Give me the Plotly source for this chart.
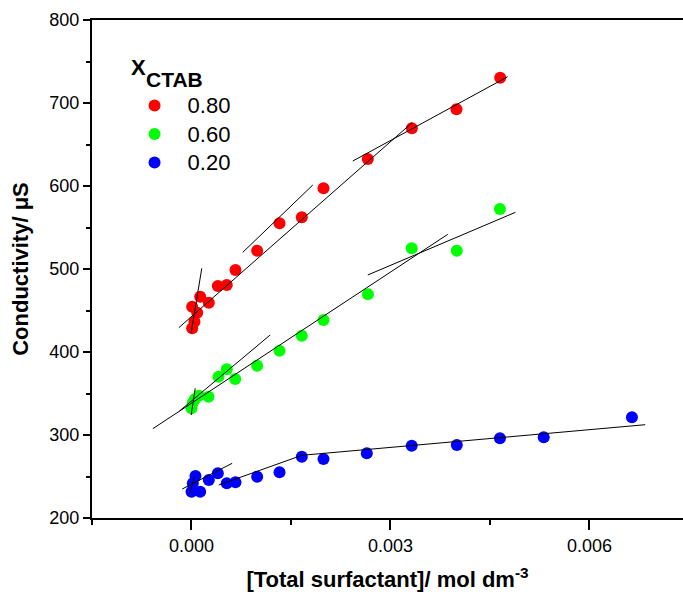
import plotly.graph_objects as go

# ---- data ----
series_names = ["0.80", "0.60", "0.20"]
series_colors = ["#FF0000", "#00FF00", "#0000FF"]

x_red = [0.00001, 0.000045, 0.000086, 0.00001, 0.000131, 0.000261, 0.000397, 0.000532,
         0.000663, 0.00099, 0.001327, 0.001663, 0.00199, 0.002658, 0.003322, 0.003995, 0.004654]
y_red = [428.5, 436.5, 447.3, 454.6, 466.7, 459.4, 479.5, 480.7,
         498.8, 522.0, 555.0, 562.3, 597.2, 632.5, 669.5, 692.4, 730.5]

x_green = [0.0, 0.00002, 0.00005, 0.00011, 0.000256, 0.000407, 0.000532, 0.000659,
           0.00099, 0.001327, 0.001663, 0.00199, 0.00266, 0.00332, 0.004, 0.00465]
y_green = [332.2, 338.9, 343.0, 347.3, 346.1, 370.2, 379.1, 367.5,
           383.5, 401.6, 419.6, 438.6, 469.5, 525.0, 522.0, 572.3]

x_blue = [0.0, 0.00002, 0.00006, 0.000131, 0.000261, 0.000397, 0.000532, 0.000663,
          0.00099, 0.001327, 0.001663, 0.00199, 0.002643, 0.00332, 0.004, 0.00465, 0.00531, 0.00664]
y_blue = [231.7, 241.8, 250.6, 231.7, 245.8, 253.9, 241.8, 243.0,
          249.8, 255.0, 273.9, 271.0, 278.0, 287.1, 288.0, 296.0, 297.2, 321.3]

# fitted line segments (start/end pairs, None separates segments)
fit_red_x = [-0.0000045, 0.000155, None, -0.000191, 0.003327, None,
             0.000773, 0.001829, None, 0.002432, 0.004768]
fit_red_y = [423.3, 500.8, None, 429.3, 676.3, None,
             520.1, 601.2, None, 630.1, 731.7]
fit_green_x = [-0.0000045, 0.000056, None, -0.000583, 0.003864, None,
               -0.000181, 0.001186, None, 0.002658, 0.004884]
fit_green_y = [324.1, 356.3, None, 307.6, 541.8, None,
               328.9, 420.5, None, 492.8, 568.3]
fit_blue_x = [-0.00003, 0.000045, None, -0.00014, 0.000613, None,
              0.000412, 0.001678, None, 0.001628, 0.00684]
fit_blue_y = [228.9, 249.8, None, 234.9, 265.9, None,
              239.8, 275.9, None, 275.3, 312.4]

x_tickvals = [0.0, 0.003, 0.006]
x_ticktext = ["0.000", "0.003", "0.006"]
y_tickvals = [200, 300, 400, 500, 600, 700, 800]

FONT = "Liberation Sans, Arial, sans-serif"

fig = go.Figure()
for name, color, xs, ys in zip(series_names, series_colors,
                               [x_red, x_green, x_blue], [y_red, y_green, y_blue]):
    fig.add_trace(go.Scatter(x=xs, y=ys, mode="markers",
                             name="<span style='font-size:22px'>" + name + "</span>",
                             marker=dict(color=color, size=12, line=dict(width=0))))

for fx, fy in [(fit_red_x, fit_red_y), (fit_green_x, fit_green_y), (fit_blue_x, fit_blue_y)]:
    fig.add_trace(go.Scatter(x=fx, y=fy, mode="lines", showlegend=False,
                             line=dict(color="black", width=1), hoverinfo="skip"))

fig.update_layout(
    width=683, height=605,
    margin=dict(l=92, r=0, t=20, b=87),
    paper_bgcolor="white", plot_bgcolor="white",
    font=dict(family=FONT, color="black"),
    showlegend=True,
    legend=dict(x=0.050, y=0.867, xanchor="left", yanchor="top",
                font=dict(family=FONT, size=19.6, color="black"),
                bgcolor="rgba(0,0,0,0)", borderwidth=0, itemwidth=56,
                tracegroupgap=0),
    xaxis=dict(range=[-0.0015, 0.00741], showgrid=False, zeroline=False,
               showline=True, linecolor="black", linewidth=2, mirror=True,
               ticks="outside", ticklen=10, tickwidth=2, tickcolor="black",
               tickvals=x_tickvals, ticktext=x_ticktext,
               tickfont=dict(family=FONT, size=18),
               minor=dict(dtick=0.0015, tick0=0, ticks="outside", ticklen=5,
                          tickwidth=2, tickcolor="black"),
               title=dict(text="<b>[Total surfactant]/ mol dm<sup>-3</sup></b>",
                          font=dict(family=FONT, size=22), standoff=17)),
    yaxis=dict(range=[200, 800], showgrid=False, zeroline=False,
               showline=True, linecolor="black", linewidth=2,
               ticks="outside", ticklen=7, tickwidth=2, tickcolor="black",
               tickvals=y_tickvals, tickfont=dict(family=FONT, size=18),
               minor=dict(dtick=50, tick0=0, ticks="outside", ticklen=4,
                          tickwidth=2, tickcolor="black"),
               title=dict(text="<b>Conductivity/ μS</b>",
                          font=dict(family=FONT, size=22), standoff=15)),
    annotations=[
        dict(text="<b>X</b>", xref="paper", yref="paper", x=0.0626, y=0.904,
             xanchor="left", yanchor="middle", showarrow=False,
             font=dict(family=FONT, size=22, color="black")),
        dict(text="<b>CTAB</b>", xref="paper", yref="paper", x=0.088, y=0.880,
             xanchor="left", yanchor="middle", showarrow=False,
             font=dict(family=FONT, size=21, color="black")),
    ],
)

fig.write_html("out.html")
